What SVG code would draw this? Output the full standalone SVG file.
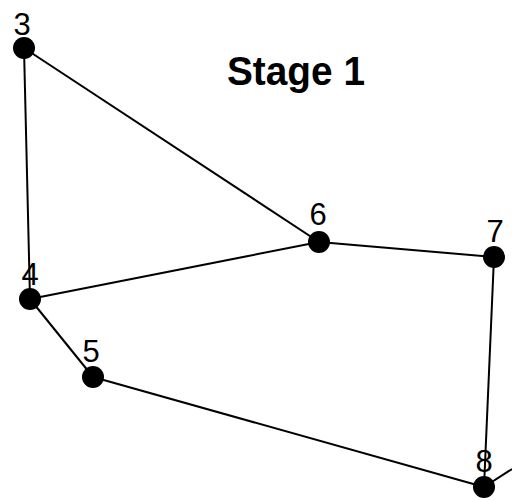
<svg xmlns="http://www.w3.org/2000/svg" width="512" height="500" viewBox="0 0 512 500">
<style>
.edge{stroke:#000;stroke-width:2;fill:none}
.dot{fill:#000}
.lbl{font-family:"Liberation Sans",Arial,sans-serif;font-size:31px;fill:#000;text-anchor:middle}
.title{font-family:"Liberation Sans",Arial,sans-serif;font-size:40px;font-weight:bold;fill:#000}
</style>
<rect width="512" height="500" fill="#fff"/>
<g id="connectors">
<line class="edge" x1="24" y1="48" x2="30" y2="299"/>
<line class="edge" x1="24" y1="48" x2="319" y2="242"/>
<line class="edge" x1="30" y1="299" x2="319" y2="242"/>
<line class="edge" x1="319" y1="242" x2="494" y2="257"/>
<line class="edge" x1="30" y1="299" x2="93" y2="377"/>
<line class="edge" x1="494" y1="257" x2="484" y2="487"/>
<line class="edge" x1="93" y1="377" x2="484" y2="487"/>
<line class="edge" x1="484" y1="487" x2="512" y2="469"/>
</g>
<g id="node3"><circle class="dot" cx="24" cy="48" r="11"/><text class="lbl" x="22" y="35">3</text></g>
<g id="node4"><circle class="dot" cx="30" cy="299" r="11"/><text class="lbl" x="30" y="285">4</text></g>
<g id="node5"><circle class="dot" cx="93" cy="377" r="11"/><text class="lbl" x="91" y="362">5</text></g>
<g id="node6"><circle class="dot" cx="319" cy="242" r="11"/><text class="lbl" x="318" y="225">6</text></g>
<g id="node7"><circle class="dot" cx="494" cy="257" r="11"/><text class="lbl" x="495" y="242">7</text></g>
<g id="node8"><circle class="dot" cx="484" cy="487" r="11"/><text class="lbl" x="484" y="472">8</text></g>
<text class="title" x="227" y="85" textLength="138" lengthAdjust="spacingAndGlyphs">Stage 1</text>
</svg>
